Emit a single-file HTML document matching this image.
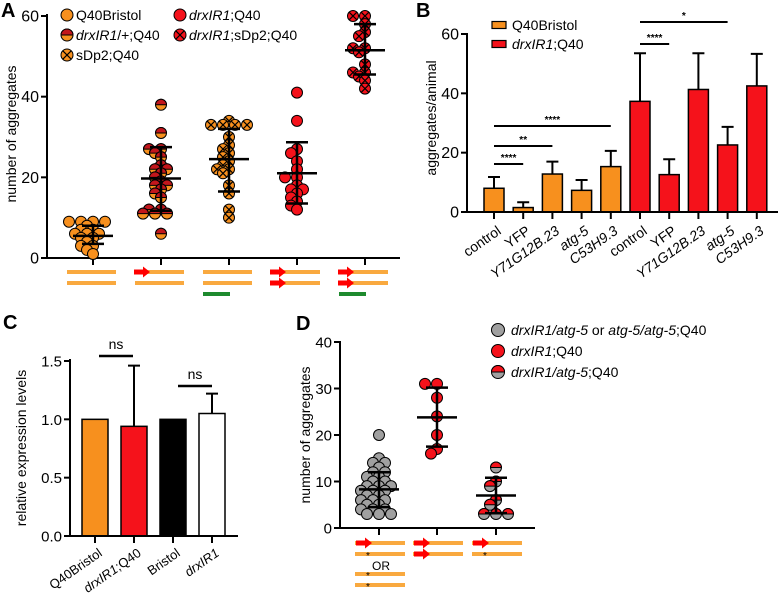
<!DOCTYPE html>
<html><head><meta charset="utf-8"><style>
html,body{margin:0;padding:0;background:#fff}
svg{display:block;font-family:"Liberation Sans",Arial,sans-serif}
</style></head><body>
<svg id="fig" width="778" height="596" viewBox="0 0 778 596" xmlns="http://www.w3.org/2000/svg"></svg>
<script>
// ---- Panel A data ----
const aCats = ["Q40Bristol","drxIR1/+;Q40","sDp2;Q40","drxIR1;Q40","drxIR1;sDp2;Q40"];
const aG1 = [9,9,9,9,8,7,7,6,6,6,5,5,4,3,3,2,1];
const aG2 = [38,31,27,27,26,25,23,22,22,21,20,19,18,18,17,16,15,12,12,11,11,11,6];
const aG3 = [34,33,33,33,33,30,28,27,26,25,24,23,22,22,21,18,16,12,10];
const aG4 = [41,34,27,26,24,22,20,20,18,17,17,16,15,14,13,12];
const aG5 = [60,60,58,56,55,52,52,51,48,46,46,45,44,42];
const aMean = [5.5,19.7,24.5,21,51.5];
const aSdLo = [3.5,11.7,16.5,13.5,45.5];
const aSdHi = [8,27.5,32,28.7,58];
const aTicks = [0,20,40,60];
// ---- Panel B data ----
const bCats = ["control","YFP","Y71G12B.23","atg-5","C53H9.3","control","YFP","Y71G12B.23","atg-5","C53H9.3"];
const bVals = [8,1.5,12.8,7.3,15.3,37.3,12.6,41.3,22.6,42.5];
const bErr = [11.8,3.3,17,10.8,20.6,53.5,17.8,53.5,28.7,53.3];
const bTicks = [0,20,40,60];
// ---- Panel C data ----
const cCats = ["Q40Bristol","drxIR1;Q40","Bristol","drxIR1"];
const cVals = [1,0.94,1,1.05];
const cErr = [1,1.46,1,1.22];
const cTicks = ["0.0","0.5","1.0","1.5"];
// ---- Panel D data ----
const dG1 = [20,15,14,14,13,12,12,11,11,10,10,9,9,9,8,8,8,7,7,6,6,6,5,5,4,4,4,3,3,3];
const dG2 = [31,31,28,24,20,17,16];
const dG3 = [13,10,9,6,5,3,3,3];
const dMean = [8.3,23.8,7];
const dSdLo = [4.5,17.5,3.2];
const dSdHi = [12,30.2,10.8];
const dTicks = [0,10,20,30,40];

const NS="http://www.w3.org/2000/svg";
const svg=document.getElementById('fig');
const OR="#f7901e", DR="#c3161c", RD="#f5121b", GR="#a0a0a0", LO="#f9a93f", GN="#1e8a2e";
function mk(tag,at,parent){const e=document.createElementNS(NS,tag);for(const k in at)e.setAttribute(k,at[k]);(parent||svg).appendChild(e);return e;}
function txt(x,y,s,size,anchor,parent,extra){const t=mk('text',Object.assign({x:x,y:y,'font-size':size,'text-anchor':anchor||'start',fill:'#000'},extra||{}),parent);t.innerHTML=s;return t;}

function marker(g,cx,cy,r,type){
  const fill=(type==='red'||type==='redcross')?RD:(type==='gray'||type==='halfgray')?GR:OR;
  const c=mk('circle',{cx:cx,cy:cy,r:r,fill:fill,stroke:'#000','stroke-width':1},g);
  
  
  if(type==='half'||type==='halfgray'){
    const p=mk('path',{d:`M${cx-r},${cy} A${r},${r} 0 0 1 ${cx+r},${cy} Z`,fill:type==='half'?DR:RD,stroke:'#000','stroke-width':1},g);
    
    
  }
  if(type==='cross'||type==='redcross'){
    const d=r*0.7;
    const p=mk('path',{d:`M${cx-d},${cy-d}L${cx+d},${cy+d}M${cx+d},${cy-d}L${cx-d},${cy+d}`,stroke:'#000','stroke-width':1.2},g);
    
    
  }
}
function swarm(vals,cx,yf,r,gap){
  const placed=[];const out=[];
  vals.forEach(v=>{const y=yf(v);const offs=[0];for(let k=1;k<8;k++){offs.push(-k*gap,k*gap);}
    let x=cx;for(const o of offs){const xx=cx+o;if(placed.every(p=>Math.hypot(p[0]-xx,p[1]-y)>=r*1.2)){x=xx;break;}}
    placed.push([x,y]);out.push([x,y]);});
  return out;
}
function sdBar(g,cx,yf,m,lo,hi,hw,cw){
  const p=mk('path',{d:`M${cx},${yf(lo)}V${yf(hi)}M${cx-cw},${yf(lo)}H${cx+cw}M${cx-cw},${yf(hi)}H${cx+cw}M${cx-hw},${yf(m)}H${cx+hw}`,stroke:'#000','stroke-width':2.5,fill:'none'},g);
  
  
}
function yAxis(g,x,y0,y1,ticks,yf,labels,size){
  const a=mk('line',{x1:x,y1:y0,x2:x,y2:y1,stroke:'#000','stroke-width':2},g);
  
  
  ticks.forEach((t,i)=>{const y=yf(t);
    const l=mk('line',{x1:x-6,y1:y,x2:x,y2:y,stroke:'#000','stroke-width':2},g);
    
    
    const tt=txt(x-8,y+5.5,labels[i],size,'end',g);
    
    });
}
function xAxis(g,x0,x1,y,cats){
  const a=mk('line',{x1:x0,y1:y,x2:x1,y2:y,stroke:'#000','stroke-width':2},g);
  
  
  cats.forEach(cx=>{const l=mk('line',{x1:cx,y1:y,x2:cx,y2:y+7,stroke:'#000','stroke-width':2},g);
    
    });
}
function gline(g,x0,x1,y,col,w){const l=mk('line',{x1:x0,y1:y,x2:x1,y2:y,stroke:col,'stroke-width':w||4},g);
  
  }
function arrow(g,x,y){const p=mk('path',{d:`M${x},${y-2.5}H${x+9}V${y-5.5}L${x+16},${y}L${x+9},${y+5.5}V${y+2.5}H${x}Z`,fill:'#f00'},g);
  
  }
function ytitle(g,x,y,s,size){const t=txt(0,0,s,size,'middle',g,{transform:`translate(${x},${y}) rotate(-90)`});
  
  }
function plabel(g,x,y,s){const t=txt(x,y,s,20,'start',g,{'font-weight':'bold'});
  
  }

// ================= Panel A =================
(function(){
  const g=mk('g',{});
  const yf=v=>258-v*(242/60);
  const cxs=[93,161,229,297,365];
  plabel(g,1,17,'A');
  yAxis(g,47,258,14,aTicks,yf,aTicks,16);
  xAxis(g,47,400,258,cxs);
  ytitle(g,16,134,'number of aggregates',14);
  const groups=[aG1,aG2,aG3,aG4,aG5], types=['plain','half','cross','red','redcross'];
  groups.forEach((vals,i)=>{swarm(vals,cxs[i],yf,5.5,6).forEach(p=>marker(g,p[0],p[1],5.5,types[i]));
    sdBar(g,cxs[i],yf,aMean[i],aSdLo[i],aSdHi[i],20,11);});
  cxs.forEach((cx,i)=>{gline(g,cx-26,cx+23,272,LO);gline(g,cx-26,cx+23,283,LO);
    if(i===1||i===3||i===4)arrow(g,cx-27,272);
    if(i===3||i===4)arrow(g,cx-27,283);
    if(i===2||i===4)gline(g,cx-26,cx+1,294,GN);});
  const leg=[[67,15,'plain','Q40Bristol'],[67,35,'half','<tspan font-style="italic">drxIR1</tspan>/+;Q40'],[67,55,'cross','sDp2;Q40'],
             [180,15,'red','<tspan font-style="italic">drxIR1</tspan>;Q40'],[180,35,'redcross','<tspan font-style="italic">drxIR1</tspan>;sDp2;Q40']];
  leg.forEach(l=>{marker(g,l[0],l[1],6,l[2]);const t=txt(l[0]+9,l[1]+5,l[3],14,'start',g);
    
    });
})();

// ================= Panel B =================
(function(){
  const g=mk('g',{});
  const yf=v=>212-v*(178/60);
  const x0=467, step=29.2, first=494;
  const cx=i=>first+i*step;
  plabel(g,416,17,'B');
  ytitle(g,436,118,'aggregates/animal',14);
  bVals.forEach((v,i)=>{const col=i<5?OR:RD;
    const e=mk('path',{d:`M${cx(i)},${yf(v)}V${yf(bErr[i])}M${cx(i)-6},${yf(bErr[i])}H${cx(i)+6}`,stroke:'#000','stroke-width':2},g);
    
    
    const r=mk('rect',{x:cx(i)-10,y:yf(v),width:20,height:yf(0)-yf(v),fill:col,stroke:'#000','stroke-width':1.5},g);
    
    });
  yAxis(g,x0,213,33,bTicks,yf,bTicks,16);
  xAxis(g,x0,778,212,bCats.map((c,i)=>cx(i)));
  bCats.forEach((c,i)=>{const it=(c==='control'||c==='YFP')?'normal':'italic';
    const t=txt(0,0,c,14,'end',g,{transform:`translate(${cx(i)+8},${233}) rotate(-35)`,'font-style':it});
    
    });
  const sig=[[0,1,164,'****'],[0,2,146,'**'],[0,4,126,'****'],[5,6,44,'****'],[5,8,22,'*']];
  sig.forEach(s=>{const l=mk('line',{x1:cx(s[0]),y1:s[2],x2:cx(s[1]),y2:s[2],stroke:'#000','stroke-width':2},g);
    
    
    const t=txt((cx(s[0])+cx(s[1]))/2,s[2]-3,s[3],10,'middle',g,{'font-weight':'bold'});
    
    });
  [[25,OR,'Q40Bristol'],[44,RD,'<tspan font-style="italic">drxIR1</tspan>;Q40']].forEach(l=>{
    const r=mk('rect',{x:492,y:l[0]-3.5,width:14,height:7,fill:l[1],stroke:'#000','stroke-width':1.2},g);
    
    
    const t=txt(512,l[0]+5,l[2],14,'start',g);
    
    });
})();

// ================= Panel C =================
(function(){
  const g=mk('g',{});
  const yf=v=>536-v*(175/1.5);
  const cxs=[95,134,173,212];
  const cols=[OR,RD,'#000','#fff'];
  plabel(g,3,329,'C');
  ytitle(g,26,448,'relative expression levels',14);
  cVals.forEach((v,i)=>{
    if(cErr[i]>v){const e=mk('path',{d:`M${cxs[i]},${yf(v)}V${yf(cErr[i])}M${cxs[i]-6},${yf(cErr[i])}H${cxs[i]+6}`,stroke:'#000','stroke-width':2},g);
      
      }
    const r=mk('rect',{x:cxs[i]-13,y:yf(v),width:26,height:yf(0)-yf(v),fill:cols[i],stroke:'#000','stroke-width':1.5},g);
    
    });
  yAxis(g,70,537,359,cTicks.map(Number),yf,cTicks,15);
  xAxis(g,70,238,536,cxs);
  const lbl=['Q40Bristol','<tspan font-style="italic">drxIR1</tspan>;Q40','Bristol','<tspan font-style="italic">drxIR1</tspan>'];
  lbl.forEach((s,i)=>{const t=txt(0,0,s,13,'end',g,{transform:`translate(${cxs[i]+8},${555}) rotate(-35)`});
    
    });
  [[99,133,356],[178,212,386]].forEach(s=>{const l=mk('line',{x1:s[0],y1:s[2],x2:s[1],y2:s[2],stroke:'#000','stroke-width':2.5},g);
    
    
    const t=txt((s[0]+s[1])/2,s[2]-7,'ns',14,'middle',g);
    
    });
})();

// ================= Panel D =================
(function(){
  const g=mk('g',{});
  const yf=v=>528-v*(186/40);
  const cxs=[379,437,496];
  plabel(g,296,330,'D');
  ytitle(g,310,435,'number of aggregates',14);
  yAxis(g,340,529,341,dTicks,yf,dTicks,15);
  xAxis(g,340,535,528,cxs);
  const groups=[dG1,dG2,dG3], types=['gray','red','halfgray'];
  groups.forEach((vals,i)=>{swarm(vals,cxs[i],yf,5.5,6).forEach(p=>marker(g,p[0],p[1],5.5,types[i]));
    sdBar(g,cxs[i],yf,dMean[i],dSdLo[i],dSdHi[i],20,11);});
  cxs.forEach((cx,i)=>{gline(g,cx-24,cx+26,543,LO);gline(g,cx-24,cx+26,554,LO);arrow(g,cx-23,543);
    if(i===1)arrow(g,cx-23,554);
    if(i!==1){const t=txt(cx-11,559,'*',10,'middle',g);}});
  gline(g,355,405,574,LO);gline(g,355,405,585,LO);
  [579,590].forEach(y=>{const t=txt(368,y,'*',10,'middle',g);});
  const o=txt(372,570,'OR',12,'start',g);
  const leg=[[330,'gray','<tspan font-style="italic">drxIR1/atg-5</tspan> or <tspan font-style="italic">atg-5/atg-5</tspan>;Q40'],
             [351,'red','<tspan font-style="italic">drxIR1</tspan>;Q40'],[372,'halfgray','<tspan font-style="italic">drxIR1/atg-5</tspan>;Q40']];
  leg.forEach(l=>{marker(g,498,l[0],6.5,l[1]);const t=txt(511,l[0]+5,l[2],14,'start',g);
    
    });
})();
</script>
</body></html>
